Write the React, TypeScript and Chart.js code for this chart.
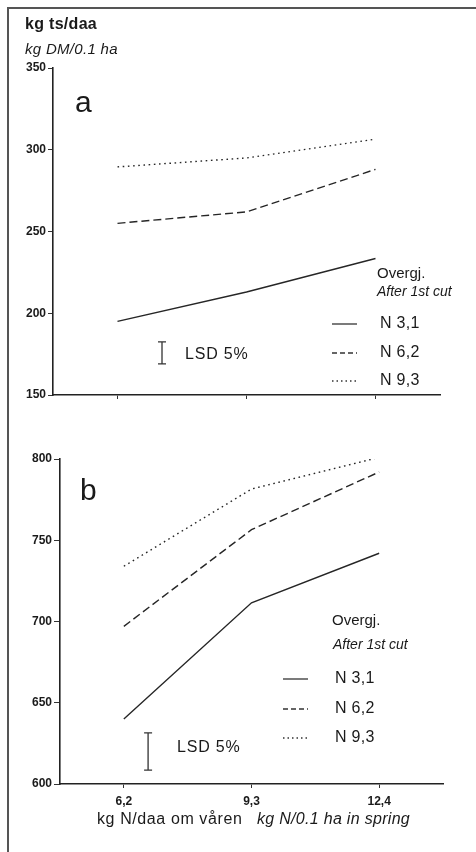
import React, { useEffect, useRef } from "react";
import { Chart, registerables } from "chart.js";
Chart.register(...registerables);

// ---- data ----
const X_LABELS = ["6,2", "9,3", "12,4"];
const SERIES_NAMES = ["N 3,1", "N 6,2", "N 9,3"];
const A_N31 = [195, 213, 233.5];
const A_N62 = [255, 262, 288];
const A_N93 = [289.5, 295, 306.5];
const B_N31 = [640, 711.5, 742];
const B_N62 = [697, 756.5, 792];
const B_N93 = [734, 781.5, 801];
const A_LSD = [169, 182.5];
const B_LSD = [608.5, 631.5];
const A_Y_RANGE = [150, 350];
const B_Y_RANGE = [600, 800];
const Y_STEP = 50;
const LEGEND_TITLE = "Overgj.";
const LEGEND_SUBTITLE = "After 1st cut";
const LSD_LABEL = "LSD 5%";
const Y_TITLE_NO = "kg ts/daa";
const Y_TITLE_EN = "kg DM/0.1 ha";
const X_TITLE_NO = "kg N/daa om våren";
const X_TITLE_EN = "kg N/0.1 ha in spring";

const FONT = "'Liberation Sans', Arial, Helvetica, sans-serif";
const INK = "#1a1a1a";
const DASHES = [[], [8, 4], [1.6, 3.6]];

function txt(ctx: CanvasRenderingContext2D, s: string, x: number, y: number, size: number, style = "normal", weight = "normal", spacing = 0) {
  ctx.save();
  ctx.font = `${style} ${weight} ${size}px ${FONT}`;
  ctx.fillStyle = INK;
  ctx.textBaseline = "middle";
  ctx.textAlign = "left";
  (ctx as any).letterSpacing = `${spacing}px`;
  ctx.fillText(s, x, y);
  ctx.restore();
}

const annotPlugin = {
  id: "annot",
  afterDraw(chart: any) {
    const o = chart.options.plugins.annot;
    if (!o) return;
    const ctx = chart.ctx as CanvasRenderingContext2D;
    const xs = chart.scales.x;
    const ys = chart.scales.y;
    txt(ctx, o.letter, o.letterX, o.letterY, 30);
    (o.texts || []).forEach((t: any) => txt(ctx, t.s, t.x, t.y, t.size, t.style || "normal", t.weight || "normal", t.sp || 0));
    // LSD bar
    const lx = xs.getPixelForValue(o.lsdX);
    const y0 = ys.getPixelForValue(o.lsd[0]);
    const y1 = ys.getPixelForValue(o.lsd[1]);
    ctx.save();
    ctx.strokeStyle = "#333";
    ctx.lineWidth = 1.3;
    ctx.beginPath();
    ctx.moveTo(lx, y0);
    ctx.lineTo(lx, y1);
    ctx.moveTo(lx - 4, y0);
    ctx.lineTo(lx + 4, y0);
    ctx.moveTo(lx - 4, y1);
    ctx.lineTo(lx + 4, y1);
    ctx.stroke();
    ctx.restore();
    txt(ctx, LSD_LABEL, o.lsdTextX, o.lsdTextY, 16, "normal", "normal", 0.8);
    // legend
    const L = o.legend;
    txt(ctx, LEGEND_TITLE, L.titleX, L.titleY, 15);
    txt(ctx, LEGEND_SUBTITLE, L.subX, L.subY, 14, "italic");
    SERIES_NAMES.forEach((name, i) => {
      const y = L.rows[i];
      ctx.save();
      ctx.strokeStyle = "#333";
      ctx.lineWidth = 1.3;
      ctx.setLineDash(i === 1 ? [5, 3] : i === 2 ? [1.5, 3] : []);
      ctx.beginPath();
      ctx.moveTo(L.lineX0, y);
      ctx.lineTo(L.lineX1, y);
      ctx.stroke();
      ctx.restore();
      txt(ctx, name, L.textX, y, 16, "normal", "normal", 0.3);
    });
  },
};

function makeDatasets(vals: number[][]) {
  return vals.map((v, i) => ({
    label: SERIES_NAMES[i],
    data: v,
    borderColor: "#262626",
    borderWidth: 1.4,
    borderDash: DASHES[i],
    pointRadius: 0,
    tension: 0,
    fill: false,
  }));
}

function buildConfig(p: any) {
  return {
    type: "line",
    data: { labels: X_LABELS, datasets: makeDatasets(p.series) },
    options: {
      animation: false,
      responsive: false,
      devicePixelRatio: 1,
      layout: { padding: p.padding },
      plugins: { legend: { display: false }, tooltip: { enabled: false }, title: { display: false }, annot: p.annot },
      scales: {
        x: {
          type: "category",
          offset: true,
          grid: { drawOnChartArea: false, drawTicks: true, tickLength: 4, color: "#333", lineWidth: 1 },
          border: { display: true, color: "#222", width: 1.6 },
          ticks: { display: p.showX, color: INK, font: { family: FONT, size: 12, weight: "bold" }, padding: 6, maxRotation: 0 },
          afterFit: (s: any) => { s.height = p.xHeight; },
        },
        y: {
          min: p.yRange[0],
          max: p.yRange[1],
          grid: { drawOnChartArea: false, drawTicks: true, tickLength: p.tickLen, color: "#333", lineWidth: 1 },
          border: { display: true, color: "#222", width: 1.6 },
          ticks: { stepSize: Y_STEP, color: INK, font: { family: FONT, size: 12, weight: "bold" }, padding: 2 },
          afterFit: (s: any) => { s.width = p.yWidth; },
        },
      },
    },
    plugins: [annotPlugin],
  };
}

const PANEL_A = {
  series: [A_N31, A_N62, A_N93],
  yRange: A_Y_RANGE,
  padding: { left: 0, right: 36, top: 68, bottom: 5 },
  xHeight: 10,
  yWidth: 53,
  tickLen: 5,
  showX: false,
  annot: {
    letter: "a", letterX: 75, letterY: 104,
    texts: [
      { s: Y_TITLE_NO, x: 25, y: 25, size: 16, weight: "bold", sp: 0.3 },
      { s: Y_TITLE_EN, x: 25, y: 50, size: 15, style: "italic", sp: 0.3 },
    ],
    lsd: A_LSD, lsdX: 0.345, lsdTextX: 185, lsdTextY: 355,
    legend: { titleX: 377, titleY: 274, subX: 377, subY: 292, lineX0: 332, lineX1: 357, textX: 380, rows: [324, 353, 381] },
  },
};

const PANEL_B = {
  series: [B_N31, B_N62, B_N93],
  yRange: B_Y_RANGE,
  padding: { left: 0, right: 33, top: 49, bottom: 38 },
  xHeight: 30,
  yWidth: 60,
  tickLen: 6,
  showX: true,
  annot: {
    letter: "b", letterX: 80, letterY: 82,
    texts: [
      { s: X_TITLE_NO, x: 97, y: 410, size: 16, sp: 0.6 },
      { s: X_TITLE_EN, x: 257, y: 410, size: 16, style: "italic", sp: 0.3 },
    ],
    lsd: B_LSD, lsdX: 0.19, lsdTextX: 177, lsdTextY: 338,
    legend: { titleX: 332, titleY: 211, subX: 333, subY: 235, lineX0: 283, lineX1: 308, textX: 335, rows: [269, 299, 328] },
  },
};

function Panel({ p, top, height }: { p: any; top: number; height: number }) {
  const ref = useRef<HTMLCanvasElement>(null);
  useEffect(() => {
    if (!ref.current) return;
    const chart = new Chart(ref.current, buildConfig(p) as any);
    return () => chart.destroy();
  }, []);
  return (
    <canvas
      ref={ref}
      width={476}
      height={height}
      style={{ position: "absolute", left: 0, top, width: 476, height }}
    />
  );
}

export default function App() {
  return (
    <div style={{ position: "absolute", left: 0, top: 0, width: 476, height: 852, background: "#fff", overflow: "hidden" }}>
      <Panel p={PANEL_A} top={0} height={410} />
      <Panel p={PANEL_B} top={410} height={442} />
      <div style={{ position: "absolute", left: 7, top: 7, width: 469, height: 2, background: "#555" }} />
      <div style={{ position: "absolute", left: 7, top: 7, width: 2, height: 845, background: "#555" }} />
    </div>
  );
}
